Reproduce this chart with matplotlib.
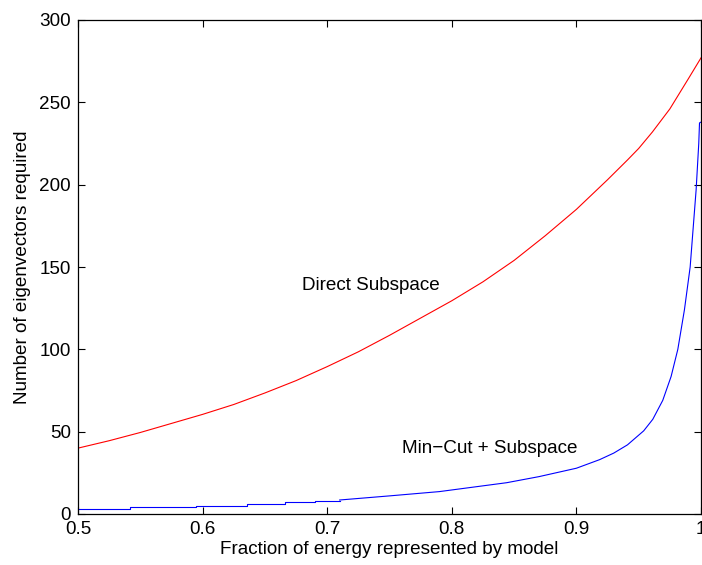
import matplotlib
matplotlib.use('Agg')
import matplotlib.pyplot as plt

# values
direct_x = [0.500, 0.525, 0.550, 0.575, 0.600, 0.625, 0.650, 0.675, 0.700, 0.725,
            0.750, 0.775, 0.800, 0.825, 0.850, 0.875, 0.900, 0.925, 0.941, 0.950,
            0.961, 0.975, 0.990, 1.000]
direct_y = [40, 44.5, 49.5, 55, 60.5, 66.5, 73.5, 81, 89.5, 98.5,
            108.5, 119, 129.5, 141, 154, 169, 185, 203, 215, 222,
            232, 246, 264.5, 277]

mincut_step_x = [0.50, 0.542, 0.595, 0.636, 0.666, 0.690, 0.71]
mincut_step_y = [3, 4, 5, 6, 7, 8, 8]

mincut_x = [0.71, 0.75, 0.79, 0.844, 0.870, 0.900, 0.9186, 0.930, 0.941, 0.954,
            0.9613, 0.9693, 0.976, 0.9814, 0.9867, 0.9913, 0.9961, 0.9982, 0.9988, 1.00]
mincut_y = [8.5, 11, 13.6, 19, 22.7, 27.8, 33, 37, 42, 50.5,
            57.5, 69, 83.5, 100, 124, 150, 197, 225, 237.5, 238]

x_ticks = [0.5, 0.6, 0.7, 0.8, 0.9, 1]
x_tick_labels = ['0.5', '0.6', '0.7', '0.8', '0.9', '1']
y_ticks = [0, 50, 100, 150, 200, 250, 300]

plt.rcParams['font.family'] = ['Liberation Sans', 'DejaVu Sans']
fs = 13.6

fig = plt.figure(figsize=(7.02, 5.65), dpi=100)
ax = fig.add_axes([78 / 702, 51 / 565, 623 / 702, 494 / 565])

ax.plot(direct_x, direct_y, color='red', lw=0.8)
ax.plot(mincut_step_x, mincut_step_y, color='blue', lw=0.8, drawstyle='steps-post')
ax.plot(mincut_x, mincut_y, color='blue', lw=0.8)

ax.text(0.68, 139, 'Direct Subspace', fontsize=fs, va='center', ha='left')
ax.text(0.7603, 39.5, 'Min\u2212Cut + Subspace', fontsize=fs, va='center', ha='left')

ax.set_xlim(0.5, 1)
ax.set_ylim(0, 300)
ax.set_xticks(x_ticks)
ax.set_xticklabels(x_tick_labels)
ax.set_yticks(y_ticks)
ax.tick_params(direction='in', length=5, width=0.8, top=True, right=True,
               labelsize=fs, pad=5)
for s in ax.spines.values():
    s.set_linewidth(0.9)

ax.set_xlabel('Fraction of energy represented by model', fontsize=fs, labelpad=2)
ax.set_ylabel('Number of eigenvectors required', fontsize=fs, labelpad=6)

fig.savefig('out.png', dpi=100)
